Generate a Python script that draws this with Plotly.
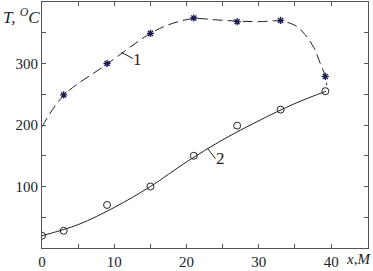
import plotly.graph_objects as go

# series 1 (asterisks)
x1_pts = [3, 9, 15, 21, 27, 33, 39.2]
y1_pts = [249, 300, 349, 374, 368, 370, 279]
# series 2 (circles)
x2_pts = [0, 3, 9, 15, 21, 27, 33, 39.2]
y2_pts = [20, 28, 70, 100, 150, 199, 225, 255]

# smooth curves
x1_curve = [0, 3, 9, 15, 18, 21, 24, 27, 30, 33, 35, 36.4, 37.6, 38.5, 39.2, 39.4]
y1_curve = [197, 248, 299, 349, 365, 373, 371, 369, 368, 369, 362, 347, 326, 300, 279, 265]
x2_curve = [0, 5, 10, 15, 20, 25, 30, 35, 39.3]
y2_curve = [20, 38, 66, 100, 140, 176, 207, 235, 255]

x_tickvals = [0, 10, 20, 30, 40]
x_ticktext = ["0", "10", "20", "30", "40"]
y_tickvals = [100, 200, 300]
y_ticktext = ["100", "200", "300"]

SERIF = "'Liberation Serif', 'Times New Roman', Times, serif"
INK = "#222222"
STAR = "#1c1c50"

fig = go.Figure()
fig.add_trace(go.Scatter(x=x1_curve, y=y1_curve, mode="lines",
                         line=dict(color=INK, width=1, dash="10px,5px", shape="spline"),
                         hoverinfo="skip"))
fig.add_trace(go.Scatter(x=x2_curve, y=y2_curve, mode="lines",
                         line=dict(color=INK, width=1, shape="spline"),
                         hoverinfo="skip"))
fig.add_trace(go.Scatter(x=x1_pts, y=y1_pts, mode="markers",
                         marker=dict(symbol="asterisk-open", size=6, color=STAR,
                                     line=dict(color=STAR, width=1.3))))
fig.add_trace(go.Scatter(x=x2_pts, y=y2_pts, mode="markers",
                         marker=dict(symbol="circle-open", size=7,
                                     color=INK, line=dict(color=INK, width=1))))

# leader lines for curve labels
fig.add_shape(type="line", x0=11.0, y0=318, x1=12.6, y1=308, line=dict(color=INK, width=1))
fig.add_shape(type="line", x0=22.9, y0=162, x1=24.0, y1=145, line=dict(color=INK, width=1))
fig.add_annotation(x=13.2, y=307, text="1", showarrow=False,
                   font=dict(family=SERIF, size=17, color=INK))
fig.add_annotation(x=24.7, y=146, text="2", showarrow=False,
                   font=dict(family=SERIF, size=17, color=INK))

# axis titles
fig.add_annotation(xref="paper", yref="paper", x=-0.125, y=1.0, xanchor="left", yanchor="top",
                   text="<i>T, <sup>O</sup>C</i>", showarrow=False,
                   font=dict(family=SERIF, size=17, color=INK), yshift=-1)
fig.add_annotation(xref="paper", yref="paper", x=1.015, y=0, xanchor="right", yanchor="top",
                   text="<i>x,М</i>", showarrow=False,
                   font=dict(family=SERIF, size=15, color=INK), yshift=-1)

axis_common = dict(showgrid=False, zeroline=False, showline=True, linecolor="#555555",
                   linewidth=1, mirror="allticks", ticks="inside", ticklen=4,
                   tickcolor="#555555", tickfont=dict(family=SERIF, size=15, color=INK))
fig.update_xaxes(range=[0, 45.1], tickmode="array", tickvals=x_tickvals, ticktext=x_ticktext,
                 minor=dict(dtick=5, ticks="inside", ticklen=4, tickcolor="#555555"),
                 **axis_common)
fig.update_yaxes(range=[0, 400], tickmode="array", tickvals=y_tickvals, ticktext=y_ticktext,
                 minor=dict(dtick=50, ticks="inside", ticklen=4, tickcolor="#555555"),
                 **axis_common)
fig.update_layout(width=373, height=271, margin=dict(l=42, r=5, t=1, b=18),
                  font=dict(family=SERIF),
                  plot_bgcolor="white", paper_bgcolor="white", showlegend=False)
fig.write_html("out.html")
